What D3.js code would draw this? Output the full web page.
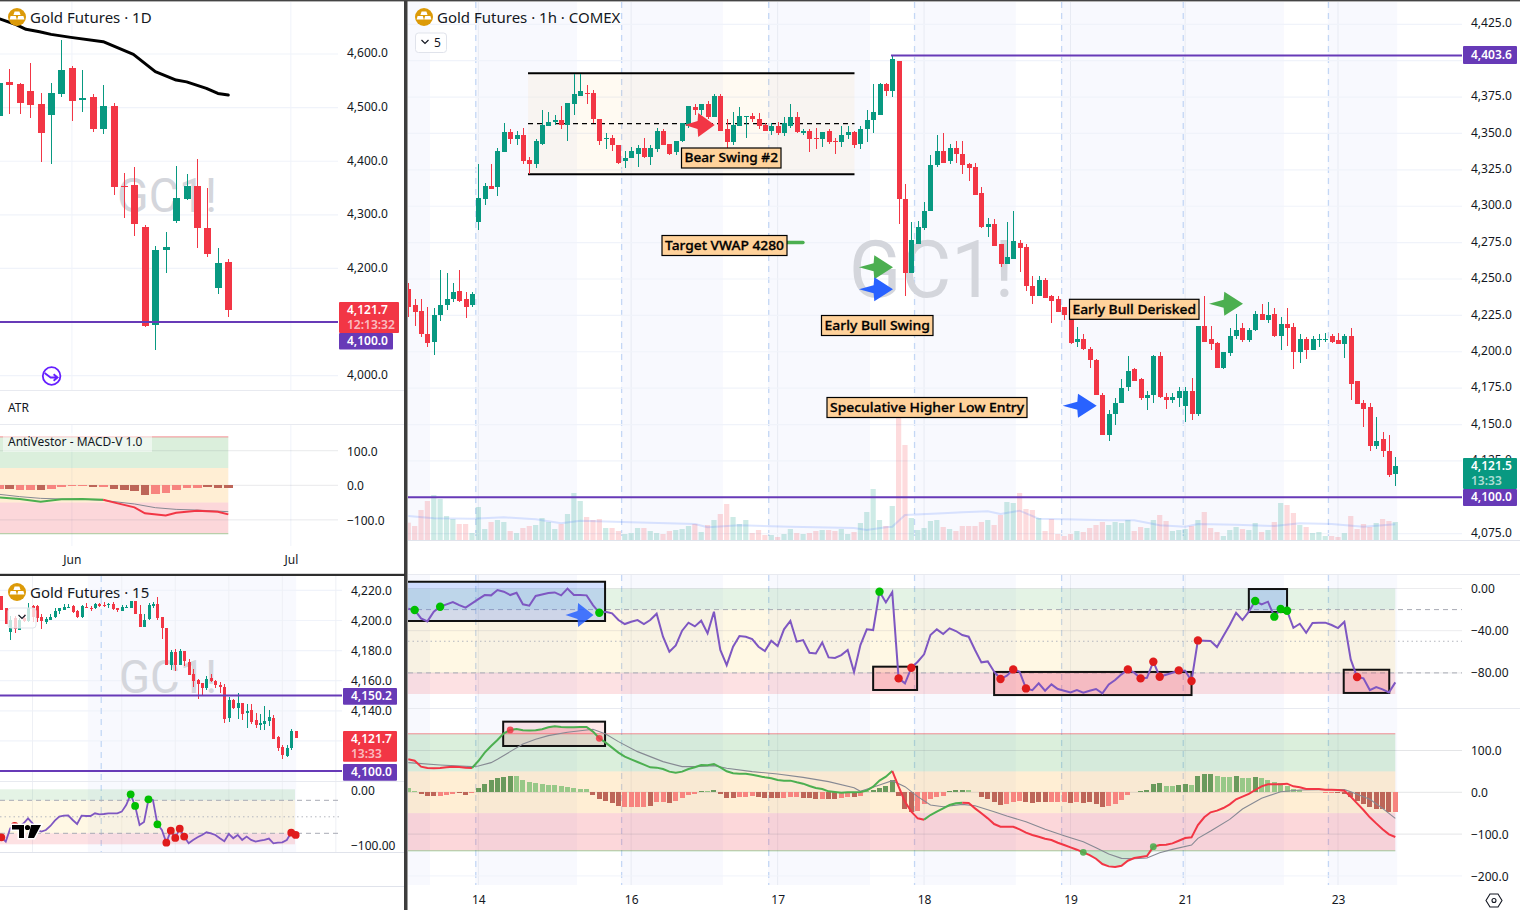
<!DOCTYPE html>
<html>
<head>
<meta charset="utf-8">
<script src="https://cdn.jsdelivr.net/npm/d3@7/dist/d3.min.js"></script>
<style>
html,body{margin:0;padding:0;background:#fff;}
svg{display:block;font-family:"Noto Sans",sans-serif;}
.axis text{fill:#131722;font-size:12px;font-family:"Noto Sans",sans-serif;}
.axis path,.axis line{display:none;}
</style>
</head>
<body>
<svg id="chart" width="1520" height="910"></svg>
<script>
// Gold futures, hourly: open, high, low, close
const hourlyOHLC = [
[4243,4247,4224,4231],[4232,4236,4218,4227],[4228,4236,4210,4212],[4212,4231,4203,4206],[4207,4230,4198,4225],[4225,4256,4221,4232],[4232,4254,4229,4236],[4236,4247,4234,4241],[4242,4256,4234,4235],[4236,4241,4223,4231],
[4232,4241,4231,4240],[4289,4329,4284,4306],[4305,4316,4301,4314],[4314,4329,4312,4312],[4313,4340,4307,4338],[4337,4357,4337,4351],[4351,4353,4343,4346],[4346,4352,4342,4349],[4349,4354,4329,4331],[4332,4334,4322,4329],
[4329,4346,4326,4345],[4343,4366,4342,4356],[4355,4365,4355,4358],[4358,4363,4356,4359],[4359,4369,4353,4356],[4356,4371,4345,4371],[4370,4391,4363,4377],[4376,4391,4376,4379],[4378,4383,4370,4377],[4378,4380,4357,4360],
[4360,4360,4342,4345],[4346,4350,4339,4347],[4347,4349,4338,4342],[4342,4342,4329,4330],[4331,4338,4326,4333],[4333,4341,4333,4338],[4336,4342,4327,4340],[4340,4347,4333,4334],[4334,4342,4328,4340],[4339,4354,4337,4352],
[4352,4353,4342,4342],[4343,4343,4335,4336],[4337,4345,4335,4345],[4345,4357,4344,4357],[4355,4369,4354,4369],[4368,4370,4363,4366],[4366,4370,4363,4370],[4370,4372,4360,4361],[4361,4377,4361,4376],[4376,4377,4352,4352],
[4353,4360,4333,4344],[4344,4365,4342,4356],[4355,4368,4355,4362],[4361,4362,4347,4362],[4362,4364,4358,4360],[4360,4364,4353,4355],[4356,4357,4352,4352],[4352,4357,4349,4355],[4355,4358,4349,4350],[4350,4361,4348,4357],
[4355,4370,4354,4361],[4361,4365,4350,4351],[4350,4353,4349,4352],[4352,4353,4337,4346],[4347,4354,4339,4346],[4346,4351,4341,4351],[4352,4353,4343,4344],[4345,4347,4336,4344],[4344,4355,4341,4349],[4349,4355,4346,4351],
[4351,4352,4340,4342],[4343,4355,4339,4353],[4353,4366,4344,4359],[4359,4384,4350,4365],[4363,4385,4363,4384],[4384,4385,4376,4379],[4379,4404,4375,4401],[4400,4400,4288,4305],[4305,4315,4238,4254],[4254,4289,4254,4277],
[4274,4290,4274,4286],[4285,4303,4284,4297],[4297,4335,4297,4328],[4328,4349,4327,4338],[4338,4350,4330,4330],[4331,4343,4329,4340],[4340,4345,4330,4336],[4336,4345,4322,4328],[4329,4330,4317,4326],[4327,4330,4308,4308],
[4309,4313,4285,4286],[4286,4292,4279,4288],[4288,4291,4273,4273],[4274,4274,4258,4260],[4260,4289,4260,4265],[4264,4297,4264,4276],[4275,4277,4255,4271],[4272,4274,4242,4245],[4245,4252,4233,4238],[4238,4252,4238,4249],
[4249,4251,4237,4237],[4238,4239,4220,4235],[4236,4238,4227,4227],[4231,4231,4222,4225],[4227,4227,4205,4206],[4207,4217,4203,4209],[4209,4212,4201,4202],[4202,4203,4189,4194],[4194,4195,4170,4170],[4170,4172,4143,4143],
[4143,4160,4139,4157],[4157,4168,4150,4165],[4165,4181,4165,4175],[4176,4197,4173,4187],[4188,4189,4180,4180],[4181,4182,4167,4168],[4168,4173,4160,4170],[4170,4198,4165,4197],[4197,4200,4168,4169],[4169,4172,4161,4167],
[4167,4172,4165,4169],[4168,4176,4162,4173],[4163,4176,4152,4173],[4173,4182,4153,4157],[4157,4218,4156,4218],[4218,4238,4207,4207],[4209,4218,4201,4205],[4206,4207,4189,4189],[4189,4200,4188,4200],[4199,4216,4197,4211],
[4211,4226,4209,4215],[4216,4220,4207,4208],[4208,4216,4207,4215],[4215,4228,4214,4226],[4226,4233,4222,4222],[4222,4234,4220,4225],[4226,4230,4210,4211],[4211,4224,4201,4219],[4219,4230,4204,4216],[4217,4220,4188,4200],
[4200,4212,4192,4209],[4209,4210,4195,4201],[4201,4211,4201,4209],[4209,4212,4203,4209],[4209,4213,4207,4209],[4211,4212,4206,4207],[4208,4213,4205,4205],[4205,4212,4196,4211],[4211,4216,4167,4178],[4180,4180,4164,4164],
[4165,4167,4148,4161],[4162,4165,4132,4135],[4135,4155,4133,4139],[4140,4145,4128,4132],[4132,4143,4114,4115],[4116,4128,4108,4121.5]];

const hourlyVolume = [52,42,90,117,135,123,72,63,48,48,21,99,33,54,60,54,27,21,36,42,45,66,54,33,48,78,141,117,69,60,63,36,36,27,18,21,36,36,27,21,18,27,30,33,42,48,24,45,60,78,108,69,48,60,21,30,15,15,9,18,33,21,18,21,27,30,30,27,33,18,24,51,84,153,60,42,102,366,285,66,30,36,57,60,39,33,27,42,
42,42,54,60,45,75,114,111,141,93,90,66,27,63,18,12,18,27,24,36,45,54,45,54,51,60,27,39,36,60,75,57,27,30,33,42,60,84,36,24,12,30,39,33,30,51,24,30,54,111,105,81,45,39,21,24,12,12,9,21,72,33,48,39,51,63,57,54];

const volumeAverage = [[0,72],[4,65],[10,64],[15,68],[20,62],[24,50],[27,58],[35,53],[45,48],[47,38],[52,44],[60,40],[70,36],[72,30],[75,38],[76,40],[78,75],[84,80],[87,83],[91,86],[93,78],[96,88],[99,64],[103,62],[110,59],[114,59],[118,44],[122,40],[124,48],[130,46],[136,42],[140,50],[145,48],[150,40],[155,47]];

const williamsR = [-19.2,-20.4,-28.3,-31.2,-22,-17.3,-15,-12.8,-15.7,-18.2,-14.1,-10,-6.2,-6.5,-1.5,-3,-6.2,-4,-15,-16.3,-7.1,-5.6,-4.3,-3.7,-6.5,-0.1,-6.2,-6.2,-6.5,-15.7,-23,-22,-23.6,-29.9,-33.7,-31.5,-29.9,-33.7,-29.9,-23.9,-45.7,-59.9,-53.9,-40,-32.4,-35.9,-30.5,-42.5,-22,-58.3,-72.6,-55.2,-45.1,-45.7,-47.9,-55.2,-59.3,-49.5,-54.5,-38.7,-30.8,-50.4,-48.9,-60.9,-61.5,-51.1,-65.3,-65.9,-63.1,-58.3,-79.2,-53.6,-38.7,-39.4,-3,-13.2,-3.4,-85.2,-89.9,-75.1,-69.4,-62.4,-44.1,-38.7,-43.2,-37.8,-40.3,-44.1,-45.7,-58.3,-70,-69.1,-78.9,-85.8,-82.7,-76.7,-78.9,-94.7,-96.3,-89.9,-96.9,-90.9,-95.3,-96.9,-98.5,-96.3,-98.8,-96.9,-95.3,-99.4,-90.9,-86.8,-81.4,-76.7,-79.8,-85.2,-84.6,-69.4,-83.6,-81.7,-79.8,-77.6,-77.9,-87.7,-49.2,-49.5,-49.8,-55.5,-45.1,-34.6,-23,-29.9,-22,-11.9,-15,-12.5,-26.7,-19.5,-21.1,-37.2,-33.4,-41.9,-32.7,-32.4,-32.4,-34.6,-37.5,-31.5,-67.2,-83.9,-85.2,-96.3,-93.4,-95.6,-98.5,-89];
const williamsHighs = [1,5,30,74,133,136,137,138];
const williamsLows = [77,79,93,95,97,113,115,117,118,121,123,124,149];

const macdLine = [78.9,75.7,61.4,58.2,57.4,58.2,59.8,61.4,60.6,59,58.2,74.9,94.9,110.9,125.2,141.2,149.2,151.6,148.4,147.6,148.4,150.8,155.5,157.9,156.3,155.5,155.5,156.3,156.3,145.2,129.2,118.8,106.9,94.9,85.3,78.9,72.6,66.2,59.8,59,55.8,49.4,47,49.4,55.8,59.8,65.4,64.6,67.8,59.8,50.2,45.4,44.6,44.6,42.2,39,35.8,33.5,29.5,27.9,27.9,23.9,20.7,15.1,10.3,7.9,2.3,0.7,-0.9,-0.1,-0.1,0.7,3.9,13.5,27.9,37.4,51,13.5,-22.4,-46.3,-62.3,-65.5,-54.3,-46.3,-38.4,-30.4,-26.4,-24.8,-25.6,-38.4,-50.3,-62.3,-75.9,-82.3,-82.3,-82.3,-88.6,-96.6,-102.2,-106.2,-111,-114.2,-120.6,-126.2,-131.7,-137.3,-143.7,-150.1,-158.9,-171.6,-177.2,-178.8,-175.6,-163.7,-157.3,-154.9,-152.5,-130.1,-126.1,-125.4,-122.2,-115.8,-109.4,-107.8,-78.3,-59.9,-47.9,-43.9,-37.6,-28.8,-16.8,-10.4,-4,5.5,14.3,19.1,19.1,19.1,20.7,14.3,11.9,7.9,7.9,7.9,6.3,6.3,5.5,3.9,-10.4,-26.4,-42.4,-59.9,-74.3,-88.6,-100.6,-107];
const macdSignal = [[0,71],[5,65.4],[10,61.4],[11,63],[13,71],[14,79],[16,97.3],[18,115.6],[20,126.8],[22,135.6],[25,143.6],[28,149],[29,150.8],[31,139.6],[33,121.2],[36,97.3],[40,73.4],[43,61.4],[45,61.4],[48,63.8],[50,57.4],[54,49.4],[58,43.8],[62,35.8],[66,25.5],[70,11.1],[71,2.3],[74,17.5],[76,27.9],[78,13.5],[80,-10.4],[82,-30.4],[84,-34.4],[87,-28.8],[89,-32],[92,-46.4],[94,-56.7],[97,-70.3],[100,-88.6],[103,-103.8],[106,-118.2],[108,-132.5],[110,-147.7],[112,-158],[114,-158.9],[116,-157.3],[118,-144.5],[120,-136.5],[123,-126.1],[124,-110.2],[126,-92.6],[129,-64.7],[131,-40],[134,-14.4],[137,1.5],[140,5.5],[143,6.3],[147,6.3],[148,1.5],[151,-16.8],[153,-38.4],[155,-62.3]];
const macdHistogram = [9.6,4,-3.2,-9.6,-9.6,-8.8,-5.6,-3.2,-2.4,-6.4,-2.4,9.6,20.8,28.8,33.6,37.6,40,40,30.4,24,21.6,19.2,17.6,17.6,16,13.6,9.6,8,7.2,-6.4,-16,-20,-25.6,-32,-35,-35,-35,-35,-32,-24,-22.4,-26.4,-20,-14.4,-6.4,-3.2,2.4,2.4,4.8,-3.2,-13.6,-13.6,-10.4,-10.4,-8.8,-10.4,-12.8,-12.8,-12.8,-12.8,-10.4,-10.4,-12.8,-14.4,-15.2,-15.2,-15.2,-15.2,-12.8,-10.4,-10.4,-8,2.4,4.8,11.2,16,30.4,-8,-40,-48,-44,-28,-16,-10.4,-8,2.4,5.6,5.6,5.6,0.8,-12,-16,-22.4,-30.4,-27,-22.4,-20,-22.4,-25.6,-24,-24,-22.4,-24,-24,-25.6,-24,-25.6,-24,-28,-35,-32,-28,-17.6,-6.4,1.6,4,6.4,20,22.4,16,14.4,18.4,20,17.6,38.4,44,44,38.4,36.8,36.8,38.4,34.4,34.4,36,33.6,29.6,24,21.6,16,8,6.4,1,0.5,0.5,-0.5,-0.5,-2.4,-4,-12,-20,-28,-36,-40,-40,-48,-46];
// 1 where a histogram column keeps the strong shade, 0 for the faded one
const macdHistogramStrong = [0,0,1,1,1,0,0,0,1,1,0,1,1,1,1,1,1,0,0,0,0,0,0,0,0,0,0,0,0,1,1,1,1,1,0,0,0,0,1,0,0,1,0,0,0,0,1,0,1,1,1,1,0,0,0,1,1,1,1,0,0,0,1,1,1,0,1,1,0,0,1,0,0,1,1,1,1,1,1,1,0,0,0,0,0,1,1,1,0,0,1,1,1,1,0,0,0,1,1,1,1,0,0,0,1,0,1,1,1,1,0,0,0,0,1,1,1,1,1,0,0,1,1,0,1,1,1,0,0,0,1,0,0,1,0,0,0,0,0,0,0,0,0,0,0,0,1,1,1,1,1,1,1,1,1,0];
const macdBullishSpans = [[10,76],[81,87]];

const sessionShading = [[-1,3.4],[10.5,26.5],[33.4,49.4],[56.5,72.5],[79.4,95.4],[102.5,137.5],[144.4,155.3]];
const sessionBreaks = [10.6,33.5,56.6,79.5,102.6,121.7,144.5];
const hourlyDayBars = [11,35,58,81,104,122,146];
const hourlyDayLabels = ["14","16","17","18","19","21","23"];

// Gold futures, daily
const dailyOHLC = [[4485,4546,4485,4546],[4548,4572,4488,4543],[4544,4546,4488,4509],[4531,4584,4480,4505],[4507,4528,4398,4452],[4486,4546,4395,4527],[4525,4626,4520,4570],[4574,4578,4475,4512],[4514,4570,4492,4518],[4520,4525,4454,4460],[4460,4542,4451,4503],[4503,4508,4337,4352],[4354,4378,4294,4352],[4355,4389,4260,4283],[4277,4281,4090,4092],[4094,4242,4048,4234],[4234,4268,4191,4240],[4288,4391,4285,4331],[4329,4376,4327,4354],[4354,4404,4238,4275],[4275,4350,4221,4227],[4163,4238,4152,4210],[4212,4217,4109,4121.7]];
const dailyAverage = [[0,4666],[1.5,4656],[2.6,4646],[3.9,4641.6],[5,4636.6],[6.9,4631],[10,4623],[12.9,4599.3],[15,4567],[17,4551.4],[18,4548],[19.9,4536],[21,4526.5],[22,4523.4]];
const dailyMacd = [[0,-34.8],[2,-39.6],[4,-47.3],[6,-40.6],[8,-39.6],[10,-41.5],[11,-49.3],[13,-63.8],[14,-81.1],[16,-87],[17,-79.2],[19,-73.4],[21,-76.3],[22,-84]];
const dailySignal = [[0,-26],[2,-32.8],[4,-37.7],[6,-39.6],[8,-40.6],[10,-43.5],[13,-54],[15,-64.7],[17,-69.6],[19,-71.5],[22,-76.3]];
const dailyHistogram = [-10,-11,-13,-14,-13,-10,-5,-3,-2,-6,-5,-12,-14,-16,-29,-24,-23,-14,-8,-7,-5,-8,-9];
const dailyHistogramStrong = [0,1,0,0,1,0,0,0,0,1,0,1,1,1,1,0,0,0,0,0,1,1,1];
const dailyTickBars = [7,28];
const dailyTickLabels = ["Jun","Jul"];

// Gold futures, 15 minute
const quarterOHLC = [[4216,4216,4207,4207],[4208,4208.5,4197.5,4198],[4192.5,4203,4187,4200.5],[4201.5,4203,4191.5,4194.5],[4194,4201.5,4194,4200.5],[4201.5,4204,4199,4199.5],[4200,4211.5,4199,4208.5],[4209.5,4210,4199,4202],[4209.5,4210,4199,4201.5],[4202.5,4204,4194.5,4199.5],[4199,4202,4197.5,4201],[4200.5,4204,4200.5,4202],[4202,4208,4201.5,4206],[4206,4208.5,4204,4208],[4207,4211,4207,4209],[4208.5,4211,4208,4209],[4209.5,4210,4205,4205.5],[4206,4207,4201.5,4202],[4202,4210,4201.5,4209.5],[4209,4211.5,4208,4208.5],[4208.5,4209.5,4206.5,4208],[4208,4211.5,4207.5,4211],[4211,4211.5,4209,4209.5],[4210.5,4212,4209,4210],[4210.5,4211.5,4208,4211],[4211,4212.5,4207,4207.5],[4208,4208.5,4205.5,4207.5],[4206.5,4210.5,4206.5,4209],[4208,4210.5,4208,4209],[4208,4213,4208,4213],[4213,4213,4204,4204.5],[4204.5,4210,4196,4196],[4196,4204,4195.5,4200.5],[4201,4211.5,4200.5,4210.5],[4209.5,4212.5,4208,4211],[4211,4215.5,4200.5,4201.5],[4202.5,4202.5,4188,4195],[4195,4195,4170.5,4170.5],[4170.5,4180.5,4167,4179],[4179,4181,4166.5,4170.5],[4170.5,4181,4170.5,4180],[4179.5,4180,4170,4173],[4172.5,4174.5,4164,4164],[4164.5,4167.5,4156,4160],[4160.5,4161,4148,4158],[4158.5,4158.5,4150.5,4155],[4155,4163,4154,4161],[4161.5,4164.5,4159,4160],[4159.5,4160.5,4155,4157],[4157,4159,4152,4155.5],[4156,4157.5,4132,4134.5],[4135,4149.5,4132.5,4147.5],[4147.5,4148,4141,4142],[4142,4151.5,4134.5,4145.5],[4145.5,4145.5,4134,4138],[4138.5,4144.5,4128.5,4140],[4140.5,4144.5,4131.5,4132.5],[4134,4138.5,4128.5,4130.5],[4130.5,4138,4127.5,4132],[4131,4143,4127.5,4133.5],[4133,4140.5,4130,4136],[4135.5,4137.5,4121,4121],[4122.5,4123,4113.5,4115],[4116,4117,4108,4110.5],[4110,4117,4109.5,4115.5],[4115,4128,4114,4126.5],[4126.5,4126.5,4121.7,4121.7]];
const quarterWilliams = [-87.3,-95.2,-71,-66.7,-67.9,-61.8,-52.7,-61.8,-74,-77,-74,-66.7,-57,-49.7,-47.9,-47.3,-55.8,-63,-47.9,-48.5,-48.5,-43.6,-45.5,-44.9,-43.6,-43.6,-43.6,-40.6,-28.5,-9.1,-30.3,-64.9,-59.4,-18.2,-19.4,-63.6,-74,-97,-75.2,-88.5,-71.5,-86,-98.2,-92.1,-87.3,-83,-78.2,-80,-83,-89,-94.5,-81.2,-89,-83,-92.1,-86,-92.1,-95.2,-93.3,-92.1,-89.7,-98.2,-97,-96.4,-92.1,-78.8,-83];
const quarterHighs = [29,30,33,35];
const quarterLows = [0,3,37,38,39,40,41,65,66];
const quarterTickBars = [7,27,39,51,63,75];
const quarterTickLabels = ["18:00","23","03:00","06:00","09:00","12:00"];
const quarterShadeFrom = 19.4, quarterShadeTo = 66.1, quarterBreak = 22.4;

// Gridline levels; the labelled subset leaves out levels hidden behind a price tag
const priceTicksHourly = d3.range(4075, 4426, 25);
const priceLabelsHourly = priceTicksHourly.filter(p=>p!==4400&&p!==4100);
const priceTicksDaily = [4000,4100,4200,4300,4400,4500,4600];
const priceLabelsDaily = [4000,4200,4300,4400,4500,4600];
const priceTicksQuarter = [4120,4140,4160,4180,4200,4220];
const priceLabelsQuarter = [4140,4160,4180,4200,4220];

// Drawn zones, expressed in bars and chart units
const bearRange = {from:18.8, to:70.07, top:4391.4, bottom:4322, mid:4356.7};
const williamsBoxes = [
  {from:-0.5,to:30.9,top:6.4,bottom:-30.8,tone:"blue"},
  {from:73,to:79.9,top:-74.1,bottom:-96.2,tone:"red"},
  {from:92,to:123,top:-79.1,bottom:-101,tone:"red"},
  {from:132,to:138,top:-0.5,bottom:-22.3,tone:"blue"},
  {from:146.9,to:154.05,top:-77,bottom:-99,tone:"red"}];
const macdBox = {from:14.9,to:30.9,top:169,bottom:110.8};

const UP="#089981", DOWN="#f23645", PURPLE="#673ab7", TEXT="#131722", GRID="#f0f3fa";
const svg = d3.select("#chart");
const defs = svg.append("defs");
function clip(id,x,y,w,h){defs.append("clipPath").attr("id",id).append("rect").attr("x",x).attr("y",y).attr("width",w).attr("height",h);}
clip("cMain",408,2,1054,538); clip("cOsc",408,575,1054,310);
clip("cDay",0,2,338,389); clip("cDayM",0,425,338,121);
clip("cQtr",0,576,342,205); clip("cQtrO",0,782,342,70); clip("cQtrAxis",0,886,342,24);

// Scales for the hourly pane and its indicators
const xH = d3.scaleLinear().domain([0,155]).range([408.3,1395.3]);
const yH = d3.scaleLinear().domain([4100,4250]).range([497.3,279]);
const yV = d3.scaleLinear().domain([0,366]).range([540,418]);
const yW = d3.scaleLinear().domain([0,-100]).range([588.5,694]);
const yM = d3.scaleLinear().domain([0,100]).range([792.3,750.5]);
// Daily pane
const xD = d3.scaleLinear().domain([0,22]).range([-1.1,228.3]);
const yD = d3.scaleLinear().domain([4000,4600]).range([375.7,54]);
const yDM = d3.scaleLinear().domain([0,100]).range([485.3,450.7]);
// 15 minute pane
const xQ = d3.scaleLinear().domain([0,66]).range([1.3,295.7]);
const yQ = d3.scaleLinear().domain([4100,4200]).range([771,620.5]);
const yQW = d3.scaleLinear().domain([0,-100]).range([789.3,844.3]);

function hLine(g,x1,x2,y,stroke,w,dash){
  const l=g.append("line").attr("x1",x1).attr("x2",x2).attr("y1",y).attr("y2",y).attr("stroke",stroke).attr("stroke-width",w||1);
  if(dash) l.attr("stroke-dasharray",dash); return l;
}
function vLine(g,x,y1,y2,stroke,w,dash){
  const l=g.append("line").attr("x1",x).attr("x2",x).attr("y1",y1).attr("y2",y2).attr("stroke",stroke).attr("stroke-width",w||1);
  if(dash) l.attr("stroke-dasharray",dash); return l;
}
function candles(g,data,x,y,bw){
  const c=g.selectAll(null).data(data).join("g").attr("fill",d=>d[3]>=d[0]?UP:DOWN).attr("stroke",d=>d[3]>=d[0]?UP:DOWN).attr("shape-rendering","crispEdges");
  c.append("line").attr("x1",(d,i)=>Math.round(x(i))+0.5).attr("x2",(d,i)=>Math.round(x(i))+0.5).attr("y1",d=>y(d[1])).attr("y2",d=>y(d[2])).attr("stroke-width",1);
  c.append("rect").attr("x",(d,i)=>Math.round(x(i))+0.5-bw/2).attr("width",bw)
   .attr("y",d=>y(Math.max(d[0],d[3]))).attr("height",d=>Math.max(1.2,Math.abs(y(d[0])-y(d[3])))).attr("stroke","none");
}
function axisRight(g,scale,ticks,fmt,xPos,dy){
  const a=g.append("g").attr("class","axis").attr("transform",`translate(${xPos},0)`)
   .call(d3.axisRight(scale).tickValues(ticks).tickSize(0).tickPadding(0).tickFormat(fmt));
  a.selectAll("text").attr("dy",dy||"0.22em");
  return a;
}
function axisBottom(g,scale,bars,labels,y,clipId){
  const a=g.append("g").attr("class","axis").attr("transform",`translate(0,${y})`)
   .call(d3.axisBottom(scale).tickValues(bars).tickSize(0).tickPadding(0).tickFormat((d,i)=>labels[i]));
  a.selectAll("text").attr("dy","0.72em");
  if(clipId) a.attr("clip-path",`url(#${clipId})`);
}
function tag(g,x,y,w,h,fill,lines){
  g.append("rect").attr("x",x).attr("y",y).attr("width",w).attr("height",h).attr("fill",fill).attr("rx",1);
  lines.forEach((t,i)=>g.append("text").attr("x",x+8).attr("y",y+(lines.length>1?12+i*14.5:h/2+3.9))
   .attr("fill",i?"rgba(255,255,255,.68)":"#fff").attr("font-size",12).attr("font-weight",600).text(t));
}
function title(g,x,y,text){
  const c=g.append("g").attr("transform",`translate(${x-13},${y})`);
  c.append("circle").attr("r",9).attr("fill","#dc9a08");
  c.append("path").attr("fill","#fff").attr("d","M-2.4,-5.4h4.8l1.2,3.4h-7.2zM-6.4,-1h5.2l1,3.4h-7.2zM1.2,-1h5.2l1,3.4h-7.2z");
  g.append("text").attr("x",x).attr("y",y+5.6).attr("fill",TEXT).attr("font-size",15).text(text);
}
function watermark(g,x,base,width,size){
  g.append("text").attr("x",x).attr("y",base).attr("font-size",size).attr("fill","#d4d6dc")
   .attr("font-family","Roboto,sans-serif").attr("textLength",width).attr("lengthAdjust","spacingAndGlyphs").text("GC1!");
}
function chevron(g,cx,cy){
  g.append("path").attr("d",`M${cx-3.5},${cy-2}L${cx},${cy+1.5}L${cx+3.5},${cy-2}`).attr("fill","none").attr("stroke",TEXT).attr("stroke-width",1.2);
}
function arrow(g,cx,cy,w,h,fill,opacity){
  const hw=w/2, hh=h/2;
  g.append("path").attr("transform",`translate(${cx},${cy})`).attr("fill",fill).attr("opacity",opacity||1)
   .attr("d",`M${-hw},0L${-hw*0.14},${-hh*0.33}L${-hw*0.1},${-hh}L${hw},0L${-hw*0.1},${hh}L${-hw*0.14},${hh*0.33}Z`);
}
function tone(name){return name==="blue"?"rgba(41,98,255,.2)":"rgba(242,54,69,.2)";}
function dots(g,idx,series,x,y,fill,r){
  g.selectAll(null).data(idx).join("circle").attr("cx",i=>x(i)).attr("cy",i=>y(series[i])).attr("r",r).attr("fill",fill);
}

/* ---------- Hourly pane ---------- */
const main = svg.append("g");
[[2,540],[575,885]].forEach(([a,b])=>{
  sessionShading.forEach(([f,t])=>main.append("rect").attr("x",Math.max(408,xH(f))).attr("width",xH(t)-Math.max(408,xH(f))).attr("y",a).attr("height",b-a).attr("fill","#f8f9fe"));
  hourlyDayBars.forEach(b2=>vLine(main,xH(b2),a,b,"#e8ebf3"));
  sessionBreaks.forEach(b2=>vLine(main,xH(b2),a,b,"#c4d7f5",1.3,"6 5"));
});
priceTicksHourly.forEach(p=>hLine(main,408,1462,yH(p),GRID,1.2));
hLine(main,408,1520,540.5,"#e0e3eb");
hLine(main,408,1520,574.5,"#e8eaf0");
hLine(main,408,1520,708.5,"#e8eaf0");

const mainClip = main.append("g").attr("clip-path","url(#cMain)");
watermark(mainClip,849,297,165,80);
// Volume with its moving average
mainClip.selectAll(null).data(hourlyVolume).join("rect")
 .attr("x",(d,i)=>xH(i)-2.6).attr("width",5.2).attr("y",d=>yV(d)).attr("height",d=>540-yV(d))
 .attr("fill",(d,i)=>hourlyOHLC[i][3]>=hourlyOHLC[i][0]?"rgba(8,153,129,.2)":"rgba(242,54,69,.18)");
mainClip.append("path").datum(volumeAverage).attr("fill","none").attr("stroke","rgba(41,98,255,.16)").attr("stroke-width",2)
 .attr("d",d3.line().x(d=>xH(d[0])).y(d=>yV(d[1])));
// Ranging zone
mainClip.append("rect").attr("x",xH(bearRange.from)).attr("width",xH(bearRange.to)-xH(bearRange.from)).attr("y",yH(bearRange.top)).attr("height",yH(bearRange.bottom)-yH(bearRange.top)).attr("fill","rgba(255,152,0,.05)");
hLine(mainClip,xH(bearRange.from),xH(bearRange.to),yH(bearRange.top),"#000",2);
hLine(mainClip,xH(bearRange.from),xH(bearRange.to),yH(bearRange.bottom),"#000",2);
hLine(mainClip,xH(bearRange.from),xH(bearRange.to),yH(bearRange.mid),"#000",1.2,"5 4");
candles(mainClip,hourlyOHLC,xH,yH,4.6);
hLine(mainClip,xH(75.8),1462,yH(4403.6),PURPLE,2);
hLine(mainClip,408,1462,yH(4100),PURPLE,2);
// Target stub under its label
mainClip.append("line").attr("x1",738).attr("x2",803).attr("y1",242.5).attr("y2",242.5).attr("stroke","#4caf50").attr("stroke-width",3.4).attr("stroke-linecap","round");

arrow(main,699.7,125,30,24,"#f23645");
arrow(main,876,267.3,34,24,"#4caf50");
arrow(main,876,289.3,34,24,"#2962ff");
arrow(main,1079.7,405.7,34,24,"#2962ff");
arrow(main,1226,303.7,34,24,"#4caf50");

// Text call-outs
[["Bear Swing #2",681.5,148,99.5],["Target VWAP 4280",662,235.5,125],["Early Bull Swing",821.5,315.5,111.5],["Speculative Higher Low Entry",827,397.5,200],["Early Bull Derisked",1069.5,299.3,129.5]].forEach(([t,x,y,w])=>{
  main.append("rect").attr("x",x).attr("y",y).attr("width",w).attr("height",20).attr("fill","#ffd29b").attr("stroke","#000").attr("stroke-width",1.2);
  main.append("text").attr("x",x+3).attr("y",y+14.4).attr("font-size",13.2).attr("font-weight",500).attr("fill","#000").attr("textLength",w-6).attr("lengthAdjust","spacingAndGlyphs").attr("stroke","#000").attr("stroke-width",0.3).text(t);
});

title(main,437,17,"Gold Futures · 1h · COMEX");
main.append("rect").attr("x",415.5).attr("y",33).attr("width",31).attr("height",19.5).attr("rx",3).attr("fill","rgba(255,255,255,.85)").attr("stroke","#e0e3eb");
chevron(main,425,42);
main.append("text").attr("x",434).attr("y",47).attr("font-size",12).attr("fill",TEXT).text("5");

axisRight(main,yH,priceLabelsHourly,d3.format(",.1f"),1471);
tag(main,1463,46,54,18,PURPLE,["4,403.6"]);
tag(main,1463,458,54,31,UP,["4,121.5","13:33"]);
tag(main,1463,489,54,17,PURPLE,["4,100.0"]);

/* ---------- Williams %R ---------- */
const osc = main.append("g").attr("clip-path","url(#cOsc)");
[[0,-20,"rgba(76,175,80,.15)"],[-20,-80,"rgba(255,193,7,.11)"],[-80,-100,"rgba(242,54,69,.15)"]].forEach(([a,b,c])=>{
  osc.append("rect").attr("x",408).attr("width",xH(155)-408).attr("y",yW(a)).attr("height",yW(b)-yW(a)).attr("fill",c);
});
[0,-40,-80].forEach(v=>hLine(osc,408,1462,yW(v),"rgba(120,123,134,.14)"));
hLine(osc,408,1462,yW(-20),"#a8abb4",1,"5 4");
hLine(osc,408,1462,yW(-80),"#a8abb4",1,"5 4");
hLine(osc,408,1462,yW(-50),"#b4b7bf",1,"1.5 3");
williamsBoxes.forEach(b=>osc.append("rect").attr("x",xH(b.from)).attr("width",xH(b.to)-xH(b.from)).attr("y",yW(b.top)).attr("height",yW(b.bottom)-yW(b.top)).attr("fill",tone(b.tone)).attr("stroke","#111").attr("stroke-width",2));
osc.append("path").datum(williamsR).attr("fill","none").attr("stroke","#7e57c2").attr("stroke-width",2)
 .attr("d",d3.line().x((d,i)=>xH(i)).y(d=>yW(d)));
dots(osc,williamsHighs,williamsR,xH,yW,"#00c000",4.2);
dots(osc,williamsLows,williamsR,xH,yW,"#e01c1c",4.2);
arrow(osc,579.5,615,28,24,"#2962ff",.85);
axisRight(main,yW,[0,-40,-80],d3.format(".2f"),1471,"0.34em");

/* ---------- MACD-V ---------- */
function macdBands(g,scale,x1,x2){
  [[140,50,"rgba(76,175,80,.2)"],[50,-50,"rgba(255,152,0,.17)"],[-50,-140,"rgba(242,54,69,.2)"]].forEach(([a,b,c])=>{
    g.append("rect").attr("x",x1).attr("width",x2-x1).attr("y",scale(a)).attr("height",scale(b)-scale(a)).attr("fill",c);
  });
  hLine(g,x1,x2,scale(140),"rgba(242,54,69,.55)");
  hLine(g,x1,x2,scale(-140),"rgba(76,175,80,.5)");
}
macdBands(osc,yM,408,xH(155));
[-200,100,0,-100].forEach(v=>hLine(osc,408,1462,yM(v),v===-200?GRID:"rgba(120,123,134,.2)"));
const topFill = d3.area().defined(d=>d[0]>=15&&d[0]<=30).x(d=>xH(d[0])).y0(yM(140)).y1(d=>yM(Math.max(140,d[1])));
osc.append("path").datum(macdLine.map((v,i)=>[i,v])).attr("fill","rgba(242,54,69,.22)").attr("d",topFill);
const lowFill = d3.area().defined(d=>d[0]>=106&&d[0]<=117).x(d=>xH(d[0])).y0(yM(-140)).y1(d=>yM(Math.min(-140,d[1])));
osc.append("path").datum(macdLine.map((v,i)=>[i,v])).attr("fill","rgba(76,175,80,.25)").attr("d",lowFill);
osc.selectAll(null).data(macdHistogram).join("rect")
 .attr("x",(d,i)=>xH(i)-2.5).attr("width",5).attr("shape-rendering","crispEdges")
 .attr("y",d=>Math.min(yM(d),yM(0))).attr("height",d=>Math.abs(yM(d)-yM(0)))
 .attr("fill",(d,i)=>d>=0?(macdHistogramStrong[i]?"#6a9a5c":"#98c888"):(macdHistogramStrong[i]?"#bd6558":"#f7847f"));
osc.append("rect").attr("x",xH(macdBox.from)).attr("width",xH(macdBox.to)-xH(macdBox.from)).attr("y",yM(macdBox.top)).attr("height",yM(macdBox.bottom)-yM(macdBox.top)).attr("fill","rgba(242,54,69,.12)").attr("stroke","#111").attr("stroke-width",2);
osc.append("path").datum(macdSignal).attr("fill","none").attr("stroke","#868993").attr("stroke-width",1.1).attr("d",d3.line().x(d=>xH(d[0])).y(d=>yM(d[1])));
const macdPath = d3.line().x(d=>xH(d[0])).y(d=>yM(d[1]));
const macdPairs = macdLine.map((v,i)=>[i,v]);
let cursor=0;
macdBullishSpans.forEach(([a,b])=>{
  osc.append("path").datum(macdPairs.slice(cursor,a+1)).attr("fill","none").attr("stroke","#f23645").attr("stroke-width",2).attr("d",macdPath);
  osc.append("path").datum(macdPairs.slice(a,b+1)).attr("fill","none").attr("stroke","#4caf50").attr("stroke-width",2).attr("d",macdPath);
  cursor=b;
});
osc.append("path").datum(macdPairs.slice(cursor)).attr("fill","none").attr("stroke","#f23645").attr("stroke-width",2).attr("d",macdPath);
dots(osc,[16,30],macdLine,xH,yM,"rgba(242,54,69,.85)",3.4);
dots(osc,[106,117],macdLine,xH,yM,"rgba(76,175,80,.9)",3.4);
axisRight(main,yM,[100,0,-100,-200],d3.format(".1f"),1471,"0.36em");
axisBottom(main,xH,hourlyDayBars,hourlyDayLabels,895);

// Chart settings glyph
const gear = main.append("g").attr("transform","translate(1494,900.5)").attr("fill","none").attr("stroke",TEXT).attr("stroke-width",1.1);
gear.append("path").attr("d","M-8,0L-4,-6.5H4L8,0L4,6.5H-4Z");
gear.append("circle").attr("r",2);

/* ---------- Daily pane ---------- */
const day = svg.append("g");
priceTicksDaily.forEach(p=>hLine(day,0,338,yD(p),GRID,1.2));
dailyTickBars.forEach(b=>{vLine(day,xD(b),2,390,"#f0f3fa");vLine(day,xD(b),425,546,"#f0f3fa");});
hLine(day,0,404,390.5,"#e8eaf0"); hLine(day,0,404,424.5,"#e8eaf0");
const dayClip = day.append("g").attr("clip-path","url(#cDay)");
watermark(dayClip,117,212,100,49);
candles(dayClip,dailyOHLC,xD,yD,6.8);
dayClip.append("path").datum(dailyAverage).attr("fill","none").attr("stroke","#000").attr("stroke-width",3).attr("stroke-linejoin","round")
 .attr("stroke-linecap","round").attr("d",d3.line().x(d=>xD(d[0])).y(d=>yD(d[1])));
hLine(dayClip,0,338,yD(4100),PURPLE,2);
title(day,30,17,"Gold Futures · 1D");
axisRight(day,yD,priceLabelsDaily,d3.format(",.1f"),347,"0.24em");
tag(day,339,302,60,31,DOWN,["4,121.7","12:13:32"]);
tag(day,339,333,54,16.5,PURPLE,["4,100.0"]);
const shift = day.append("g").attr("transform","translate(51.6,376)").attr("fill","none").attr("stroke","#651fff").attr("stroke-width",1.8);
shift.append("circle").attr("r",8.8);
shift.append("path").attr("d","M-7,-3L-1,1.5H5M2,-1.8L6,1.5L2,4.8");
day.append("text").attr("x",8).attr("y",411.5).attr("fill",TEXT).attr("font-size",12).text("ATR");

const dayM = day.append("g").attr("clip-path","url(#cDayM)");
macdBands(dayM,yDM,0,xD(22));
[100,0,-100].forEach(v=>hLine(dayM,0,338,yDM(v),"rgba(120,123,134,.17)"));
dayM.selectAll(null).data(dailyHistogram).join("rect").attr("x",(d,i)=>xD(i)-4).attr("width",8.6).attr("shape-rendering","crispEdges")
 .attr("y",yDM(0)).attr("height",d=>yDM(d)-yDM(0)).attr("fill",(d,i)=>dailyHistogramStrong[i]?"#bd6558":"#f7847f");
dayM.append("path").datum(dailySignal).attr("fill","none").attr("stroke","#868993").attr("stroke-width",1).attr("d",d3.line().x(d=>xD(d[0])).y(d=>yDM(d[1])));
const dailyLine = d3.line().x(d=>xD(d[0])).y(d=>yDM(d[1]));
dayM.append("path").datum(dailyMacd.slice(0,6)).attr("fill","none").attr("stroke","#4caf50").attr("stroke-width",2).attr("d",dailyLine);
dayM.append("path").datum(dailyMacd.slice(5)).attr("fill","none").attr("stroke","#f23645").attr("stroke-width",2).attr("d",dailyLine);
day.append("rect").attr("x",3).attr("y",433).attr("width",149).attr("height",19).attr("fill","rgba(255,255,255,.5)");
day.append("text").attr("x",8).attr("y",445.5).attr("fill",TEXT).attr("font-size",12).text("AntiVestor - MACD-V 1.0");
axisRight(day,yDM,[100,0,-100],d3.format(".1f"),347,"0.36em");
axisBottom(day,xD,dailyTickBars,dailyTickLabels,555);

/* ---------- 15 minute pane ---------- */
const qtr = svg.append("g");
qtr.append("rect").attr("x",xQ(quarterShadeFrom)).attr("width",xQ(quarterShadeTo)-xQ(quarterShadeFrom)).attr("y",576).attr("height",276).attr("fill","#f8f9fe");
priceTicksQuarter.forEach(p=>hLine(qtr,0,342,yQ(p),GRID,1.2));
quarterTickBars.forEach(b=>vLine(qtr,xQ(b),576,852,"#eef0f5"));
vLine(qtr,xQ(quarterBreak),576,852,"#c4d7f5",1.3,"6 5");
hLine(qtr,0,404,781.5,"#e8eaf0"); hLine(qtr,0,404,852.5,"#e0e3eb"); hLine(qtr,0,404,886.5,"#e0e3eb");
const qClip = qtr.append("g").attr("clip-path","url(#cQtr)");
watermark(qClip,119,693,98,46);
candles(qClip,quarterOHLC,xQ,yQ,3.8);
hLine(qClip,0,342,yQ(4150.2),PURPLE,2);
hLine(qClip,0,342,yQ(4100),PURPLE,2);
title(qtr,30,592,"Gold Futures · 15");
qtr.append("rect").attr("x",8).attr("y",608).attr("width",28).attr("height",20).attr("rx",3).attr("fill","rgba(255,255,255,.75)").attr("stroke","#e0e3eb");
chevron(qtr,22,617);
axisRight(qtr,yQ,priceLabelsQuarter,d3.format(",.1f"),351,"0.3em");
tag(qtr,343,688,54,16.7,PURPLE,["4,150.2"]);
tag(qtr,343,731,54,30.7,DOWN,["4,121.7","13:33"]);
tag(qtr,343,764,54,16.7,PURPLE,["4,100.0"]);

const qO = qtr.append("g").attr("clip-path","url(#cQtrO)");
[[0,-20,"rgba(76,175,80,.15)"],[-20,-80,"rgba(255,193,7,.11)"],[-80,-100,"rgba(242,54,69,.15)"]].forEach(([a,b,c])=>{
  qO.append("rect").attr("x",0).attr("width",295).attr("y",yQW(a)).attr("height",yQW(b)-yQW(a)).attr("fill",c);
});
hLine(qO,0,342,yQW(-20),"#a8abb4",1,"5 4");
hLine(qO,0,342,yQW(-80),"#a8abb4",1,"5 4");
hLine(qO,0,342,yQW(-50),"#b4b7bf",1,"1.5 3");
qO.append("path").datum(quarterWilliams).attr("fill","none").attr("stroke","#7e57c2").attr("stroke-width",1.8).attr("d",d3.line().x((d,i)=>xQ(i)).y(d=>yQW(d)));
dots(qO,quarterHighs,quarterWilliams,xQ,yQW,"#00c000",3.9);
dots(qO,quarterLows,quarterWilliams,xQ,yQW,"#e01c1c",3.9);
axisRight(qtr,yQW,[0,-100],d3.format(".2f"),351,"0.42em");
axisBottom(qtr,xQ,quarterTickBars,quarterTickLabels,893,"cQtrAxis");

// Platform logo in the pane corner
const logo = qtr.append("g").attr("transform","translate(11,823)");
logo.append("path").attr("fill","#000").attr("stroke","#fff").attr("stroke-width",3).attr("paint-order","stroke")
 .attr("d","M1,2H13V15H8V6.5H1ZM20,2H30L23,15H17Z");
logo.append("circle").attr("cx",16.5).attr("cy",4.5).attr("r",2.6).attr("fill","#000");

/* ---------- Window frame ---------- */
const frame = svg.append("g");
frame.append("rect").attr("x",404).attr("y",0).attr("width",3.5).attr("height",910).attr("fill","#3d3d3d");
frame.append("rect").attr("x",0).attr("y",0).attr("width",1520).attr("height",1.4).attr("fill","#444");
frame.append("rect").attr("x",0).attr("y",573.8).attr("width",405).attr("height",2.2).attr("fill","#2e2e2e");
</script>
</body>
</html>
